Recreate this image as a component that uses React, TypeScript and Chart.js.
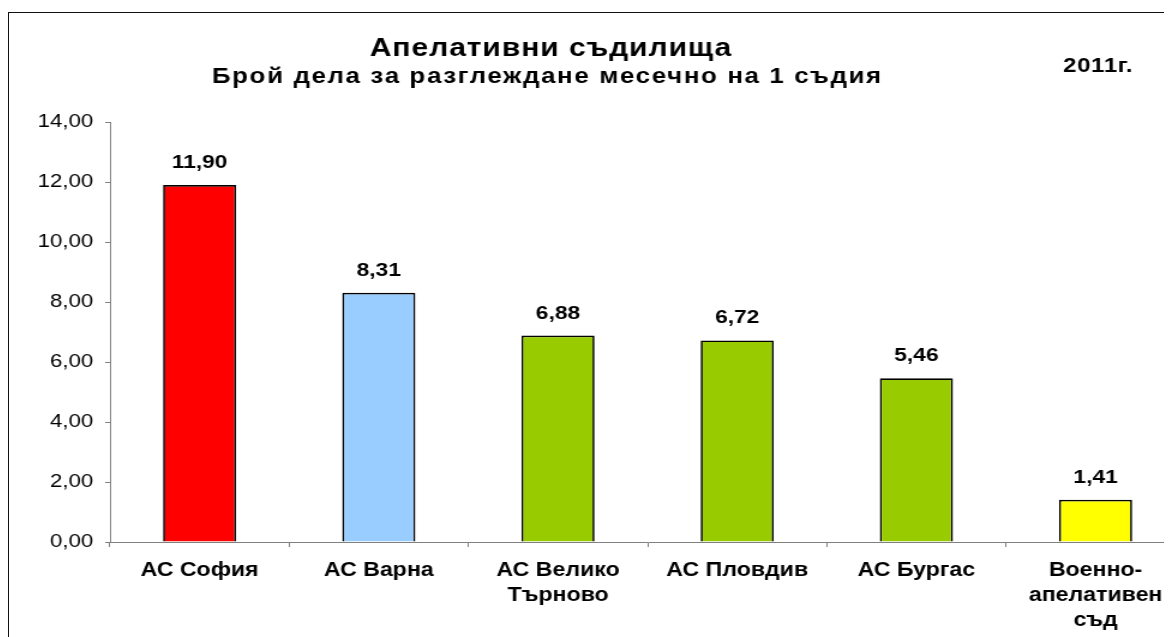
import React, { useEffect, useRef } from "react";
import { Chart, registerables } from "chart.js";

Chart.register(...registerables);

const categories: string[][] = [
  ["АС София"],
  ["АС Варна"],
  ["АС Велико", "Търново"],
  ["АС Пловдив"],
  ["АС Бургас"],
  ["Военно-", "апелативен", "съд"],
];
const values: number[] = [11.9, 8.31, 6.88, 6.72, 5.46, 1.41];
const barColors: string[] = ["#FF0000", "#99CCFF", "#99CC00", "#99CC00", "#99CC00", "#FFFF00"];
const titleText = "Апелативни съдилища";
const subtitleText = "Брой дела за разглеждане месечно на 1 съдия";
const yearText = "2011г.";
const yMin = 0;
const yMax = 14;
const yStep = 2;

const FONT = '"Liberation Sans", Arial, sans-serif';
const fmt = (v: number) => v.toFixed(2).replace(".", ",");

const textPlugin = {
  id: "texts",
  afterDraw(chart: any) {
    const ctx = chart.ctx;
    ctx.save();
    ctx.fillStyle = "#000";
    ctx.textAlign = "center";
    ctx.textBaseline = "alphabetic";
    ctx.font = `bold 25px ${FONT}`;
    ctx.letterSpacing = "0.8px";
    ctx.fillText(titleText, 452.5, 47.5);
    ctx.font = `bold 21.5px ${FONT}`;
    ctx.letterSpacing = "1.4px";
    ctx.fillText(subtitleText, 449.5, 75);
    ctx.font = `bold 20px ${FONT}`;
    ctx.letterSpacing = "0.5px";
    ctx.fillText(yearText, 908.5, 63.5);
    ctx.letterSpacing = "0px";
    const meta = chart.getDatasetMeta(0);
    ctx.font = `bold 19px ${FONT}`;
    meta.data.forEach((bar: any, i: number) => {
      ctx.fillText(fmt(values[i]), bar.x, bar.y - 17);
    });
    ctx.restore();
  },
};

export default function App() {
  const ref = useRef<HTMLCanvasElement>(null);
  useEffect(() => {
    if (!ref.current) return;
    const chart = new Chart(ref.current, {
      type: "bar",
      data: {
        labels: categories,
        datasets: [
          {
            data: values,
            backgroundColor: barColors,
            borderColor: "#000",
            borderWidth: 1.7,
            barPercentage: 0.408,
            categoryPercentage: 1,
          },
        ],
      },
      options: {
        animation: false,
        responsive: false,
        maintainAspectRatio: false,
        devicePixelRatio: 1,
        layout: { padding: { top: 114, left: 0, right: 19, bottom: 0 } },
        plugins: {
          legend: { display: false },
          title: { display: false },
          tooltip: { enabled: false },
        },
        scales: {
          x: {
            afterFit: (s: any) => {
              s.height = 106;
            },
            border: { display: true, color: "#808080", width: 1 },
            grid: {
              display: true,
              drawOnChartArea: false,
              drawTicks: true,
              tickLength: 5,
              color: "#808080",
              offset: true,
            },
            ticks: {
              color: "#000",
              font: { family: FONT, size: 19.3, weight: "bold", lineHeight: 1.3 },
              padding: 11,
              maxRotation: 0,
              autoSkip: false,
            },
          },
          y: {
            min: yMin,
            max: yMax,
            afterFit: (s: any) => {
              s.width = 85;
            },
            border: { display: true, color: "#808080", width: 1 },
            grid: {
              display: true,
              drawOnChartArea: false,
              drawTicks: true,
              tickLength: 4,
              color: "#808080",
            },
            ticks: {
              stepSize: yStep,
              color: "#000",
              font: { family: FONT, size: 18.5 },
              padding: 10,
              callback: (v: any) => fmt(Number(v)),
            },
          },
        },
      },
      plugins: [textPlugin],
    });
    return () => chart.destroy();
  }, []);

  return (
    <div style={{ position: "relative", width: 1164, height: 629, overflow: "hidden", background: "#fff" }}>
      <canvas
        ref={ref}
        width={1000}
        height={640}
        style={{
          position: "absolute",
          left: 0,
          top: 0,
          transform: "scaleX(1.2)",
          transformOrigin: "0 0",
        }}
      />
      <div
        style={{
          position: "absolute",
          left: 0,
          top: 4,
          width: 2000,
          height: 2000,
          border: "1px solid #111",
          pointerEvents: "none",
        }}
      />
    </div>
  );
}
